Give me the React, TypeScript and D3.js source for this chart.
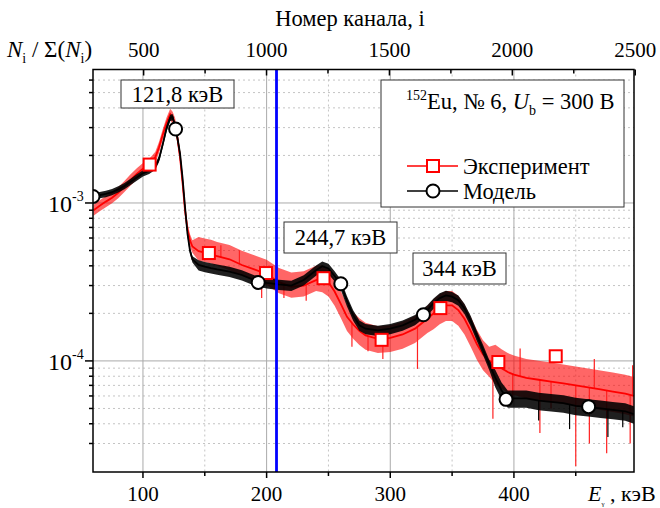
import React from 'react';
import * as d3 from 'd3';

// ---- data ----
const energies = [60,65,70,75,80,85,90,95,100,105,110,113,116,119,122,124,126,128,130,132,134,136,138,140,145,150,155,160,170,180,190,200,210,220,230,240,245,250,255,260,265,270,275,280,290,300,310,320,330,335,340,345,350,355,360,365,370,375,380,385,390,395,400,410,420,430,440,450,460,470,480,490,497];

const modMid = [1.10e-3,1.12e-3,1.14e-3,1.17e-3,1.22e-3,1.28e-3,1.36e-3,1.45e-3,1.54e-3,1.60e-3,1.70e-3,
  1.90e-3,2.35e-3,2.95e-3,3.45e-3,
  3.50e-3,3.05e-3,2.55e-3,2.05e-3,1.45e-3,9.5e-4,6.4e-4,5.0e-4,4.4e-4,
  4.05e-4,3.95e-4,3.87e-4,3.80e-4,
  3.68e-4,3.50e-4,3.25e-4,3.12e-4,3.05e-4,3.00e-4,3.25e-4,3.75e-4,
  3.98e-4,3.85e-4,3.45e-4,3.05e-4,2.40e-4,1.95e-4,1.68e-4,1.60e-4,
  1.56e-4,1.60e-4,1.68e-4,1.82e-4,2.10e-4,
  2.32e-4,2.50e-4,2.60e-4,2.55e-4,2.42e-4,2.15e-4,1.80e-4,1.45e-4,1.18e-4,9.5e-5,7.8e-5,6.5e-5,5.8e-5,5.8e-5,
  5.8e-5,5.6e-5,5.5e-5,5.4e-5,5.2e-5,5.1e-5,5.0e-5,4.9e-5,4.8e-5,
  4.6e-5];

const expMid = [9.0e-4,9.6e-4,1.02e-3,1.08e-3,1.16e-3,1.27e-3,1.40e-3,1.53e-3,1.65e-3,1.75e-3,1.95e-3,
  2.25e-3,2.70e-3,3.20e-3,3.65e-3,
  3.45e-3,3.15e-3,2.55e-3,1.95e-3,1.35e-3,9.0e-4,6.8e-4,5.8e-4,5.3e-4,
  4.95e-4,4.85e-4,4.75e-4,4.60e-4,
  4.40e-4,4.05e-4,3.80e-4,3.55e-4,3.15e-4,2.95e-4,3.00e-4,3.25e-4,
  3.35e-4,3.15e-4,2.75e-4,2.30e-4,1.90e-4,1.70e-4,1.55e-4,1.45e-4,
  1.38e-4,1.40e-4,1.47e-4,1.60e-4,1.85e-4,
  2.00e-4,2.15e-4,2.25e-4,2.25e-4,2.10e-4,1.85e-4,1.55e-4,1.28e-4,1.10e-4,1.00e-4,9.6e-5,9.0e-5,8.5e-5,8.2e-5,
  7.8e-5,7.6e-5,7.4e-5,7.2e-5,7.0e-5,6.8e-5,6.6e-5,6.4e-5,6.2e-5,
  6.0e-5];

// noise band half-widths (decades)
const expUp = [0.035,0.035,0.035,0.035,0.035,0.035,0.035,0.035,0.035,0.035,0.035,
  0.035,0.035,0.035,0.035,
  0.04,0.04,0.04,0.04,0.04,0.04,0.04,0.04,0.04,
  0.09,0.09,0.09,0.09,
  0.09,0.09,0.09,0.09,0.09,0.09,0.09,0.09,
  0.08,0.08,0.08,0.08,0.08,0.08,0.08,0.08,
  0.08,0.08,0.08,0.08,0.08,
  0.09,0.09,0.09,0.09,0.09,0.09,0.09,0.09,0.09,0.09,0.12,0.12,0.12,0.12,
  0.12,0.12,0.12,0.12,0.12,0.12,0.12,0.12,0.12,
  0.12];
const expDown = [0.035,0.035,0.035,0.035,0.035,0.035,0.035,0.035,0.035,0.035,0.035,
  0.035,0.035,0.035,0.035,
  0.04,0.04,0.04,0.04,0.04,0.04,0.04,0.04,0.04,
  0.06,0.06,0.06,0.06,
  0.07,0.07,0.07,0.07,0.07,0.07,0.07,0.07,
  0.09,0.09,0.09,0.09,0.09,0.09,0.09,0.09,
  0.09,0.09,0.09,0.09,0.09,
  0.10,0.10,0.10,0.10,0.10,0.10,0.10,0.10,0.10,0.10,0.13,0.13,0.13,0.13,
  0.13,0.13,0.13,0.13,0.13,0.13,0.13,0.13,0.13,
  0.13];
const modUp = [0.02,0.02,0.02,0.02,0.02,0.02,0.02,0.02,0.02,0.02,0.02,
  0.02,0.02,0.02,0.02,
  0.02,0.02,0.02,0.02,0.02,0.02,0.02,0.02,0.02,
  0.03,0.03,0.03,0.03,
  0.03,0.03,0.03,0.03,0.03,0.03,0.03,0.03,
  0.03,0.03,0.03,0.03,0.03,0.03,0.03,0.03,
  0.03,0.03,0.03,0.03,0.03,
  0.03,0.03,0.03,0.03,0.03,0.03,0.03,0.03,0.03,0.03,0.05,0.05,0.05,0.05,
  0.05,0.05,0.05,0.05,0.05,0.05,0.05,0.05,0.05,
  0.05];
const modDown = [0.02,0.02,0.02,0.02,0.02,0.02,0.02,0.02,0.02,0.02,0.02,
  0.02,0.02,0.02,0.02,
  0.02,0.02,0.02,0.02,0.02,0.02,0.02,0.02,0.02,
  0.035,0.035,0.035,0.035,
  0.035,0.035,0.035,0.035,0.035,0.035,0.035,0.035,
  0.035,0.035,0.035,0.035,0.035,0.035,0.035,0.035,
  0.035,0.035,0.035,0.035,0.035,
  0.035,0.035,0.035,0.035,0.035,0.035,0.035,0.035,0.035,0.035,0.06,0.06,0.06,0.06,
  0.06,0.06,0.06,0.06,0.06,0.06,0.06,0.06,0.06,
  0.06];

// isolated spikes of the noisy traces
const expSpikeE = [163,178,196,214,232,269,282,294,322,383,399,405,421,430,450,461,465,475,494,496];
const expSpikeV = [5.4e-4,5.0e-4,2.5e-4,2.5e-4,2.4e-4,1.23e-4,1.15e-4,1.03e-4,8.9e-5,4.3e-5,5.5e-5,1.2e-4,3.5e-5,5.0e-5,2.15e-5,3.0e-5,1.03e-4,2.6e-5,3.0e-5,9.4e-5];
const modSpikeE = [420,445,476,488];
const modSpikeV = [4.2e-5,3.7e-5,3.3e-5,3.8e-5];

// markers
const expMarkE = [105.4,153.3,199.5,246,293,340.5,387.4,433.8];
const expMarkV = [1.75e-3,4.82e-4,3.6e-4,3.34e-4,1.36e-4,2.16e-4,9.84e-5,1.07e-4];
const modMarkE = [59.6,126.4,193.2,260,326.8,393.6,460.4];
const modMarkV = [1.10e-3,2.94e-3,3.14e-4,3.08e-4,1.96e-4,5.71e-5,5.13e-5];

const markerLineE = 208;

const xMajor = [100,200,300,400];
const xMinor = [150,250,350,450];
const chMajor = [500,1000,1500,2000,2500];
const chMinor = [750,1250,1750,2250];
const yMajor = [1e-4,1e-3];
const yMinor = [3e-5,4e-5,5e-5,6e-5,7e-5,8e-5,9e-5,2e-4,3e-4,4e-4,5e-4,6e-4,7e-4,8e-4,9e-4,2e-3,3e-3,4e-3,5e-3,6e-3];

const peakLabels = ['121,8 кэВ','244,7 кэВ','344 кэВ'];

const FONT = "'Liberation Serif', 'Times New Roman', Times, 'DejaVu Serif', serif";

export default function App() {
  const L = 93, R = 634, T = 69.5, B = 472;
  const x = d3.scaleLinear().domain([59.6, 497.1]).range([L, R]);
  const xTop = d3.scaleLinear().domain([294, 2495]).range([L, R]);
  const y = d3.scaleLog().domain([1.98e-5, 7.0e-3]).range([B, T]);

  const idx = energies.map((_, i) => i);
  const band = (mid: number[], up: number[], down: number[]) =>
    d3.area<number>()
      .x(i => x(energies[i]))
      .y0(i => y(mid[i] * Math.pow(10, -down[i])))
      .y1(i => y(mid[i] * Math.pow(10, up[i])))(idx) || '';
  const line = (mid: number[]) =>
    d3.line<number>().x(i => x(energies[i])).y(i => y(mid[i]))(idx) || '';
  const interpMid = (mid: number[], e: number) => {
    const j = d3.bisectLeft(energies, e);
    const j0 = Math.max(0, j - 1), j1 = Math.min(energies.length - 1, j);
    return j0 === j1 ? mid[j0] : Math.exp(d3.scaleLinear().domain([energies[j0], energies[j1]]).range([Math.log(mid[j0]), Math.log(mid[j1])])(e));
  };

  const boxes = [
    { t: peakLabels[0], x0: 121, y0: 80, w: 113, h: 28 },
    { t: peakLabels[1], x0: 284, y0: 222, w: 113, h: 31 },
    { t: peakLabels[2], x0: 413, y0: 253, w: 93, h: 31 },
  ];
  const ts: React.CSSProperties = { fontFamily: FONT };
  const FS = 22.5;

  return (
    <svg width={660} height={508} style={{ display: 'block', position: 'absolute', left: 0, top: 0, fontFamily: FONT }}>
      <rect x={0} y={0} width={660} height={508} fill="#fff" />
      <defs>
        <clipPath id="plot"><rect x={L} y={T} width={R - L} height={B - T} /></clipPath>
      </defs>
      {/* grid */}
      {yMinor.map(v => <line key={'ym' + v} x1={L} x2={R} y1={y(v)} y2={y(v)} stroke="#c4c4c4" strokeDasharray="2,3" />)}
      {xMinor.map(v => <line key={'xm' + v} x1={x(v)} x2={x(v)} y1={T} y2={B} stroke="#c4c4c4" strokeDasharray="2,3" />)}
      {yMajor.map(v => <line key={'yM' + v} x1={L} x2={R} y1={y(v)} y2={y(v)} stroke="#aaa" />)}
      {xMajor.map(v => <line key={'xM' + v} x1={x(v)} x2={x(v)} y1={T} y2={B} stroke="#aaa" />)}

      <g clipPath="url(#plot)">
        {/* experiment */}
        <path d={band(expMid, expUp, expDown)} fill="#ff0000" fillOpacity={0.6} stroke="none" />
        {expSpikeE.map((e, i) => (
          <line key={'es' + i} x1={x(e)} x2={x(e)} y1={y(interpMid(expMid, e))} y2={y(expSpikeV[i])} stroke="#ff2020" strokeWidth={1.2} />
        ))}
        <path d={line(expMid)} fill="none" stroke="#ff0000" strokeWidth={1.8} />
        {/* model */}
        <path d={band(modMid, modUp, modDown)} fill="#000" fillOpacity={0.88} stroke="none" />
        {modSpikeE.map((e, i) => (
          <line key={'ms' + i} x1={x(e)} x2={x(e)} y1={y(interpMid(modMid, e))} y2={y(modSpikeV[i])} stroke="#000" strokeWidth={1.2} />
        ))}
        <path d={line(modMid)} fill="none" stroke="#000" strokeWidth={1.8} />
        {/* blue marker line */}
        <line x1={x(markerLineE)} x2={x(markerLineE)} y1={T} y2={B} stroke="#0000ff" strokeWidth={2.8} />
        {/* markers */}
        {expMarkE.map((e, i) => (
          <rect key={'em' + i} x={x(e) - 6} y={y(expMarkV[i]) - 6} width={12} height={12} fill="#fff" stroke="#ff0000" strokeWidth={2} />
        ))}
        {modMarkE.map((e, i) => (
          <circle key={'mm' + i} cx={x(e)} cy={y(modMarkV[i])} r={6.5} fill="#fff" stroke="#000" strokeWidth={2} />
        ))}
      </g>

      {/* axes frame */}
      <rect x={L} y={T} width={R - L} height={B - T} fill="none" stroke="#000" strokeWidth={1.5} />
      {/* bottom ticks */}
      {xMajor.map(v => <line key={'bt' + v} x1={x(v)} x2={x(v)} y1={B} y2={B + 6} stroke="#000" strokeWidth={1.5} />)}
      {xMinor.map(v => <line key={'btm' + v} x1={x(v)} x2={x(v)} y1={B} y2={B + 4} stroke="#000" strokeWidth={1.5} />)}
      {xMajor.map(v => <text key={'bl' + v} style={ts} x={x(v)} y={501} textAnchor="middle" fontSize={21}>{v}</text>)}
      {/* top ticks */}
      {chMajor.map(v => <line key={'tt' + v} x1={xTop(v)} x2={xTop(v)} y1={T} y2={T + 6} stroke="#000" strokeWidth={1.5} />)}
      {chMinor.map(v => <line key={'ttm' + v} x1={xTop(v)} x2={xTop(v)} y1={T} y2={T + 4} stroke="#000" strokeWidth={1.5} />)}
      {chMajor.map(v => <text key={'tl' + v} style={ts} x={xTop(v)} y={56.5} textAnchor="middle" fontSize={21}>{v}</text>)}
      <text style={ts} x={350} y={26} textAnchor="middle" fontSize={FS}>Номер канала, i</text>
      {/* left ticks */}
      {yMajor.map(v => <line key={'lt' + v} x1={L - 8} x2={L} y1={y(v)} y2={y(v)} stroke="#000" strokeWidth={1.5} />)}
      {yMinor.map(v => <line key={'ltm' + v} x1={L - 4} x2={L} y1={y(v)} y2={y(v)} stroke="#000" strokeWidth={1.5} />)}
      {yMajor.map(v => (
        <text key={'ll' + v} style={ts} x={48} y={y(v) + 9} fontSize={24}>
          10<tspan fontSize={14} dy={-11}>{Math.round(Math.log10(v))}</tspan>
        </text>
      ))}
      {/* axis titles */}
      <text style={ts} x={7} y={56.5} fontSize={23}>
        <tspan fontStyle="italic">N</tspan><tspan fontSize={14} dy={6}>i</tspan><tspan dy={-6}> / Σ(</tspan><tspan fontStyle="italic">N</tspan><tspan fontSize={14} dy={6}>i</tspan><tspan dy={-6}>)</tspan>
      </text>
      <text style={ts} x={588} y={501} fontSize={22}>
        <tspan fontStyle="italic">E</tspan><tspan fontSize={7} dy={5}>γ</tspan><tspan dy={-5}> , кэВ</tspan>
      </text>

      {/* peak labels */}
      {boxes.map((b, i) => (
        <g key={'bx' + i}>
          <rect x={b.x0} y={b.y0} width={b.w} height={b.h} fill="#fff" stroke="#333" strokeWidth={1} />
          <text style={ts} x={b.x0 + b.w / 2} y={b.y0 + b.h / 2 + 7.5} textAnchor="middle" fontSize={FS}>{b.t}</text>
        </g>
      ))}

      {/* legend */}
      <rect x={381} y={80} width={243} height={127} fill="#fff" stroke="#333" strokeWidth={1} />
      <text style={ts} x={406} y={109} fontSize={FS}>
        <tspan fontSize={14} dy={-9}>152</tspan><tspan dy={9}>Eu, № 6, </tspan><tspan fontStyle="italic">U</tspan><tspan fontSize={14} dy={6}>b</tspan><tspan dy={-6}> = 300 В</tspan>
      </text>
      <line x1={407} x2={458} y1={166} y2={166} stroke="#ff0000" strokeWidth={1.5} />
      <rect x={427} y={160} width={12} height={12} fill="#fff" stroke="#ff0000" strokeWidth={2} />
      <text style={ts} x={463} y={173.5} fontSize={FS}>Эксперимент</text>
      <line x1={407} x2={458} y1={191} y2={191} stroke="#000" strokeWidth={1.5} />
      <circle cx={433} cy={191} r={6.5} fill="#fff" stroke="#000" strokeWidth={2} />
      <text style={ts} x={463} y={198.5} fontSize={FS}>Модель</text>
    </svg>
  );
}
